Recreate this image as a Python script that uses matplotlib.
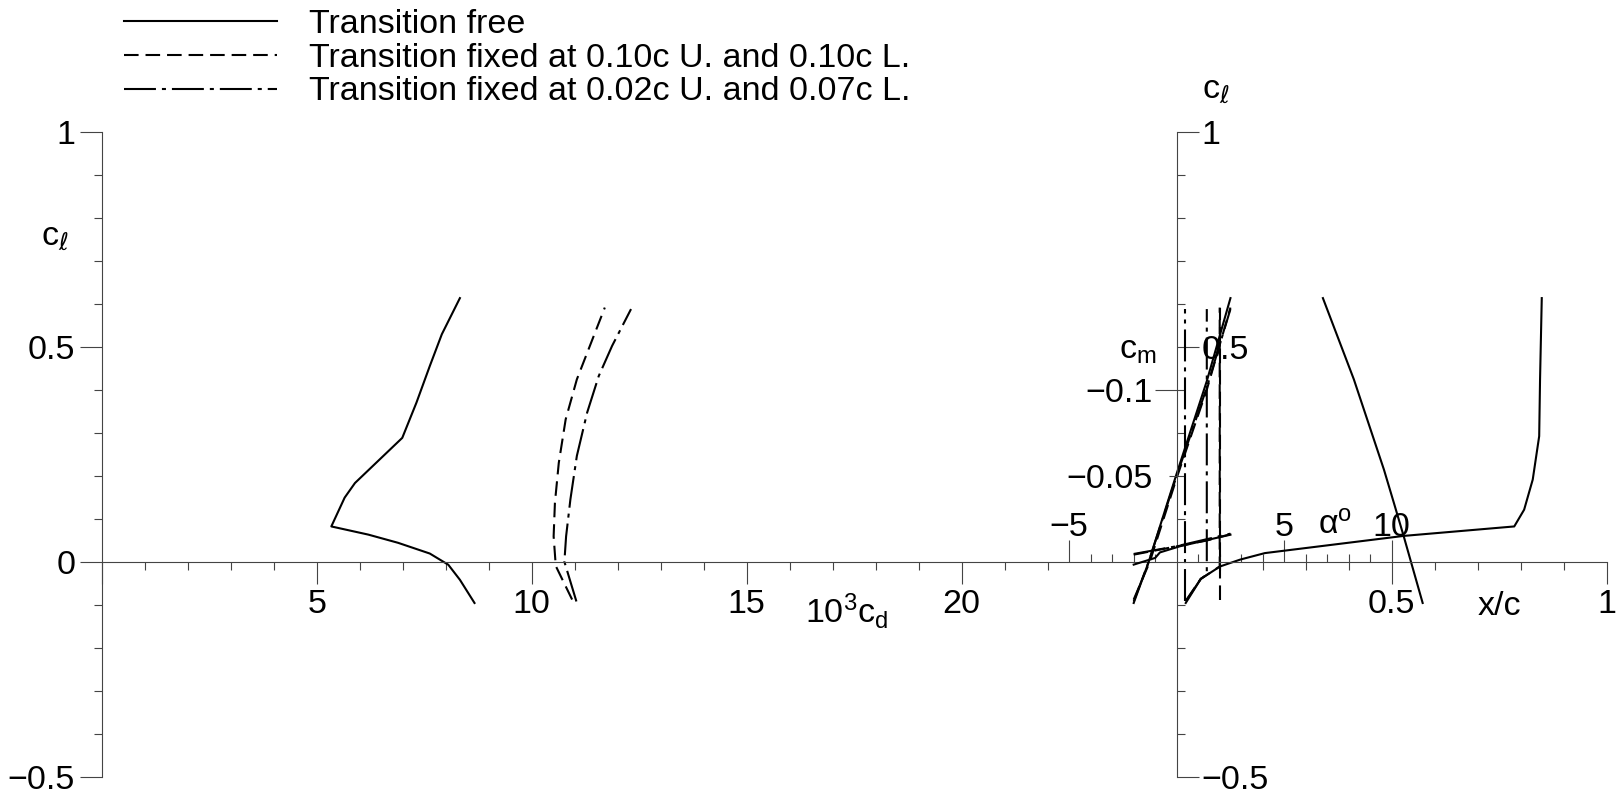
import numpy as np
import matplotlib
matplotlib.use("Agg")
import matplotlib.pyplot as plt
from matplotlib.ticker import FixedFormatter

plt.rcParams['font.family'] = ['Liberation Sans', 'DejaVu Sans']
plt.rcParams['mathtext.fontset'] = 'dejavusans'
plt.rcParams['lines.scale_dashes'] = False

# %% DATA
# drag polars: 10^3 cd against cl
cd_free = [8.67, 8.33, 8.06, 7.63, 6.89, 6.20, 5.34, 5.65, 5.89, 6.99, 7.32, 7.63, 7.91, 8.33]
cl_free = [-0.096, -0.042, -0.007, 0.019, 0.044, 0.063, 0.082, 0.149, 0.183, 0.288, 0.370, 0.455, 0.529, 0.613]

cd_fix10 = [10.94, 10.56, 10.51, 10.54, 10.63, 10.79, 11.05, 11.40, 11.70]
cl_fix10 = [-0.088, -0.010, 0.059, 0.137, 0.230, 0.331, 0.424, 0.514, 0.591]

cd_fix02 = [11.04, 10.76, 10.80, 10.90, 11.05, 11.29, 11.56, 11.87, 12.31]
cl_fix02 = [-0.0925, 0.0, 0.059, 0.145, 0.246, 0.347, 0.432, 0.502, 0.5875]

# lift curves, alpha in degrees
alpha_free = [-2.0, -1.3, 0.0, 1.4, 2.5]
cla_free = [-0.096, 0.0, 0.205, 0.42, 0.613]
alpha_fix10 = [-2.0, -1.25, 0.0, 1.4, 2.5]
cla_fix10 = [-0.088, 0.0, 0.195, 0.40, 0.591]
alpha_fix02 = [-2.0, -1.3, 0.0, 1.4, 2.5]
cla_fix02 = [-0.0925, 0.0, 0.20, 0.405, 0.5875]

# moment curves
alpha_cm_free = [-2.0, -1.0, -0.78, 0.16, 2.5]
cm_free = [0.0017, -0.0022, -0.0054, -0.0090, -0.0157]
alpha_cm_fix10 = [-2.0, 1.4, 2.5]
cm_fix10 = [-0.0041, -0.0123, -0.0160]
alpha_cm_fix02 = [-2.0, 0.0, 2.5]
cm_fix02 = [-0.0045, -0.0090, -0.0163]

# transition location x/c against cl, upper and lower surface
xtr_up_free = [0.572, 0.528, 0.505, 0.482, 0.412, 0.340]
cltr_up_free = [-0.096, 0.059, 0.137, 0.214, 0.424, 0.613]
xtr_lo_free = [0.021, 0.056, 0.101, 0.148, 0.205, 0.528, 0.785, 0.808, 0.828, 0.843, 0.845, 0.849]
cltr_lo_free = [-0.096, -0.040, -0.011, 0.005, 0.020, 0.060, 0.082, 0.121, 0.191, 0.292, 0.424, 0.613]

xtr_up_fix10 = [0.10, 0.10]
cltr_up_fix10 = [-0.088, 0.591]
xtr_lo_fix10 = [0.023, 0.056, 0.10, 0.10]
cltr_lo_fix10 = [-0.088, -0.040, -0.011, 0.591]

xtr_up_fix02 = [0.02, 0.02]
cltr_up_fix02 = [-0.0925, 0.5875]
xtr_lo_fix02 = [0.021, 0.056, 0.07, 0.07]
cltr_lo_fix02 = [-0.0925, -0.040, -0.030, 0.5875]

labels = ['Transition free',
          'Transition fixed at 0.10c U. and 0.10c L.',
          'Transition fixed at 0.02c U. and 0.07c L.']

# %% LAYOUT (pixels)
W, H = 1617, 798
X_CD0 = 101.7     # cd = 0
X_A0 = 1176.7     # alpha = 0, x/c = 0
Y_CL0 = 561.7     # cl = 0, from top
U = 43.0          # one grid step: 1 cd, 0.1 cl, 2 deg, 0.1 x/c, 0.025 cm

AXC = '#444444'
FS = 24.5
LW = 1.5
MAJ, MIN = 15.6, 6.1

styles = [dict(color='k', lw=LW, linestyle='-'),
          dict(color='k', lw=LW, dashes=(10.5, 5)),
          dict(color='k', lw=LW, dashes=(23, 4.3, 2.9, 4.3))]


def lims(origin, total, per_unit):
    return (-origin / per_unit, (total - origin) / per_unit)


fig = plt.figure(figsize=(W / 100, H / 100), dpi=100)


def overlay(xlim, ylim):
    ax = fig.add_axes([0, 0, 1, 1])
    ax.patch.set_visible(False)
    for s in ax.spines.values():
        s.set_visible(False)
    ax.set_xticks([])
    ax.set_yticks([])
    ax.set_xlim(*xlim)
    ax.set_ylim(*ylim)
    return ax


cl_lim = lims(H - Y_CL0, H, U * 10)
ax_cd = overlay(lims(X_CD0, W, U), cl_lim)
ax_a = overlay(lims(X_A0, W, U / 2), cl_lim)
cm_lo, cm_hi = lims(H - Y_CL0, H, U / 0.025)
ax_m = overlay(lims(X_A0, W, U / 2), (-cm_lo, -cm_hi))
ax_x = overlay(lims(X_A0, W, U * 10), cl_lim)

# %% left panel axes
sp = ax_cd.spines['left']
sp.set_visible(True); sp.set_position(('data', 0)); sp.set_bounds(-0.5, 1)
sp = ax_cd.spines['bottom']
sp.set_visible(True); sp.set_position(('data', 0)); sp.set_bounds(0, (X_A0 - X_CD0) / U)
ax_cd.set_yticks([-0.5, 0, 0.5, 1], labels=['\u22120.5', '0', '0.5', '1'])
ax_cd.set_yticks(np.round(np.arange(-0.5, 1.01, 0.1), 2), minor=True)
ax_cd.set_xticks([0, 5, 10, 15, 20], labels=['', '5', '10', '15', '20'])
ax_cd.set_xticks(range(1, 23), minor=True)
ax_cd.tick_params(axis='y', which='both', direction='out', pad=3.5)
ax_cd.tick_params(axis='x', which='both', direction='out', pad=4)

# %% right panel axes
sp = ax_a.spines['right']
sp.set_visible(True); sp.set_position(('data', 0)); sp.set_bounds(-0.5, 1)
ax_a.yaxis.set_ticks_position('right')
ax_a.set_yticks([-0.5, 0.5, 1], labels=['\u22120.5', '0.5', '1'])
ax_a.set_yticks([-0.4, -0.3, -0.2, -0.1, 0.1, 0.2, 0.3, 0.4, 0.6, 0.7, 0.8, 0.9], minor=True)
ax_a.tick_params(axis='y', which='both', direction='out', pad=2)
ax_a.spines['top'].set_position(('data', 0))
ax_a.xaxis.set_ticks_position('top')
ax_a.set_xticks([-5, 5, 10], labels=['\u22125', '5', '10'])
ax_a.set_xticks([a for a in range(-4, 10) if a not in (0, 5)], minor=True)
ax_a.tick_params(axis='x', which='both', direction='out', pad=-2)

sp = ax_x.spines['bottom']
sp.set_visible(True); sp.set_position(('data', 0)); sp.set_bounds(0, 1)
ax_x.set_xticks([0.5, 1], labels=['0.5', '1'])
ax_x.set_xticks([0.1, 0.2, 0.3, 0.4, 0.6, 0.7, 0.8, 0.9], minor=True)
ax_x.tick_params(axis='x', which='both', direction='out', pad=4)

ax_m.spines['left'].set_position(('data', 0))
ax_m.set_yticks([-0.1], labels=['\u22120.1'])
ax_m.set_yticks([-0.05], minor=True)
ax_m.yaxis.set_minor_formatter(FixedFormatter(['\u22120.05']))
ax_m.tick_params(axis='y', which='major', direction='out', pad=2)
ax_m.tick_params(axis='y', which='minor', direction='out', pad=11.5)

for ax in (ax_cd, ax_a, ax_x, ax_m):
    for s in ax.spines.values():
        s.set_color(AXC)
        s.set_linewidth(0.8)
    ax.tick_params(which='major', length=MAJ, width=0.8, color=AXC, labelsize=FS)
    ax.tick_params(which='minor', length=MIN, width=0.8, color=AXC, labelsize=FS)

# %% curves
handles = []
for (cd, cl), st in zip([(cd_free, cl_free), (cd_fix10, cl_fix10), (cd_fix02, cl_fix02)], styles):
    handles += ax_cd.plot(cd, cl, **st)

for (a, c), st in zip([(alpha_free, cla_free), (alpha_fix10, cla_fix10), (alpha_fix02, cla_fix02)], styles):
    ax_a.plot(a, c, **st)

for (a, c), st in zip([(alpha_cm_free, cm_free), (alpha_cm_fix10, cm_fix10), (alpha_cm_fix02, cm_fix02)], styles):
    ax_m.plot(a, c, **st)

tr_cases = [(xtr_up_free, cltr_up_free, xtr_lo_free, cltr_lo_free),
            (xtr_up_fix10, cltr_up_fix10, xtr_lo_fix10, cltr_lo_fix10),
            (xtr_up_fix02, cltr_up_fix02, xtr_lo_fix02, cltr_lo_fix02)]
for (xu, cu, xl, cl), st in zip(tr_cases, styles):
    ax_x.plot(xu, cu, **st)
    ax_x.plot(xl, cl, **st)

# %% axis titles
ax_cd.text(-1.41, 0.736, r'$\mathregular{c}_{\ell}$', fontsize=FS, ha='left', va='baseline')
ax_cd.text(17.33, -0.143, r'$\mathregular{10^3c_d}$', fontsize=FS, ha='center', va='baseline')
ax_a.text(1.16, 1.078, r'$\mathregular{c}_{\ell}$', fontsize=FS, ha='left', va='baseline')
ax_a.text(7.38, 0.062, '$\\mathregular{\u03b1^o}$', fontsize=FS, ha='center', va='baseline')
ax_m.text(-1.79, -0.1183, r'$\mathregular{c}_{\mathregular{m}}$', fontsize=FS, ha='center', va='baseline')
ax_x.text(0.75, -0.124, 'x/c', fontsize=FS, ha='center', va='baseline')

ax_cd.legend(handles, labels, loc='upper left', bbox_to_anchor=(124 / W, 1 - 9 / H),
             bbox_transform=fig.transFigure, frameon=False, fontsize=FS,
             handlelength=4.5, handletextpad=0.93, labelspacing=0.08,
             borderpad=0, borderaxespad=0)

fig.savefig('out.png', dpi=100)
